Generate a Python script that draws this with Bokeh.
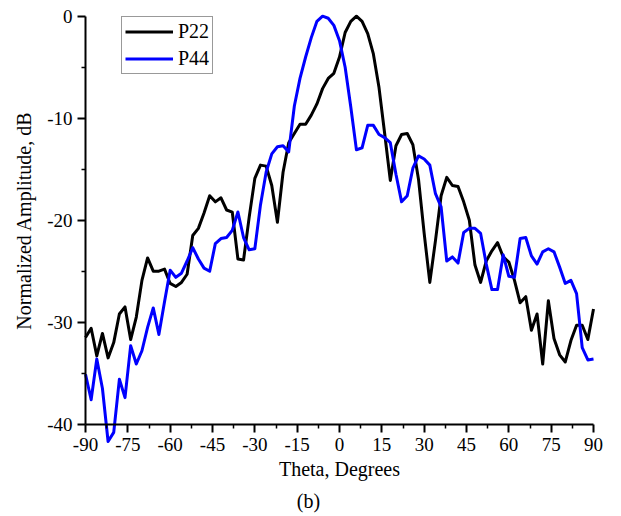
from bokeh.plotting import figure
from bokeh.models import Range1d, FixedTicker, Legend, LegendItem, Label
from bokeh.embed import file_html
from bokeh.resources import INLINE

theta = [-90, -88, -86, -84, -82, -80, -78, -76, -74, -72, -70, -68, -66, -64, -62, -60,
         -58, -56, -54, -52, -50, -48, -46, -44, -42, -40, -38, -36, -34, -32, -30, -28,
         -26, -24, -22, -20, -18, -16, -14, -12, -10, -8, -6, -4, -2, 0, 2, 4, 6, 8, 10,
         12, 14, 16, 18, 20, 22, 24, 26, 28, 30, 32, 34, 36, 38, 40, 42, 44, 46, 48, 50,
         52, 54, 56, 58, 60, 62, 64, 66, 68, 70, 72, 74, 76, 78, 80, 82, 84, 86, 88, 90]

p22 = [-31.5, -30.6, -33.3, -31.1, -33.5, -32.0, -29.2, -28.5, -31.7, -29.5, -25.9, -23.7,
       -25.0, -25.0, -24.8, -26.2, -26.5, -26.1, -25.3, -21.5, -20.8, -19.3, -17.6, -18.2,
       -17.8, -19.0, -19.2, -23.8, -23.9, -19.7, -15.9, -14.6, -14.7, -16.6, -20.2, -15.3,
       -12.4, -11.5, -10.6, -10.6, -9.7, -8.6, -7.1, -6.1, -5.6, -4.0, -1.6, -0.5, 0.0,
       -0.5, -1.7, -3.7, -7.0, -11.5, -16.1, -12.7, -11.6, -11.5, -12.6, -16.0, -21.3,
       -26.1, -22.0, -17.6, -15.8, -16.6, -16.7, -18.2, -20.0, -24.4, -26.1, -24.0, -23.0,
       -22.2, -23.6, -24.1, -25.9, -28.1, -27.5, -30.8, -29.2, -34.1, -27.9, -31.6, -33.2,
       -33.9, -31.8, -30.3, -30.3, -31.7, -28.7]

p44 = [-35.1, -37.6, -33.6, -36.5, -41.7, -40.8, -35.6, -37.4, -32.3, -34.1, -32.8, -30.5,
       -28.6, -31.2, -28.0, -24.9, -25.6, -25.2, -24.0, -22.7, -23.8, -24.7, -25.0, -22.3,
       -21.8, -21.7, -21.0, -19.2, -21.7, -22.9, -22.8, -18.5, -15.3, -13.5, -12.8, -12.7,
       -13.3, -8.8, -6.1, -4.0, -2.1, -0.5, 0.0, -0.2, -0.9, -2.4, -5.0, -8.9, -13.1,
       -12.9, -10.7, -10.7, -11.6, -11.9, -12.4, -15.5, -18.2, -17.6, -14.9, -13.7, -14.0,
       -14.6, -17.4, -18.7, -24.0, -23.6, -24.2, -21.2, -20.8, -20.8, -21.3, -24.3, -26.8,
       -26.8, -23.4, -25.5, -25.6, -21.8, -21.7, -23.5, -24.3, -23.1, -22.8, -23.1, -24.6,
       -26.2, -25.9, -27.2, -32.5, -33.7, -33.6]

x_major = [-90, -75, -60, -45, -30, -15, 0, 15, 30, 45, 60, 75, 90]
x_minor = [-82.5, -67.5, -52.5, -37.5, -22.5, -7.5, 7.5, 22.5, 37.5, 52.5, 67.5, 82.5]
x_labels = ["-90", "-75", "-60", "-45", "-30", "-15", "0", "15", "30", "45", "60", "75", "90"]
y_major = [-40, -30, -20, -10, 0]
y_minor = [-35, -25, -15, -5]
y_labels = ["-40", "-30", "-20", "-10", "0"]

series_names = ["P22", "P44"]
x_title = "Theta, Degrees"
y_title = "Normalized Amplitude, dB"
caption = "(b)"

FONT = "Liberation Serif"

# frame covers the whole canvas; axes are pinned at theta=-90 and -40 dB
p = figure(width=621, height=516, output_backend="svg", toolbar_location=None,
           x_range=Range1d(-120.12, 99.92), y_range=Range1d(-49.05, 1.54),
           min_border_left=0, min_border_right=0, min_border_top=0,
           min_border_bottom=0)
p.outline_line_color = None
p.grid.visible = False
p.background_fill_color = "white"
p.border_fill_color = "white"

r1 = p.line(theta, p22, line_color="black", line_width=3, line_join="round")
r2 = p.line(theta, p44, line_color="#0000ff", line_width=3, line_join="round")

for ax in (p.xaxis[0], p.yaxis[0]):
    ax.axis_line_color = "black"
    ax.axis_line_width = 2
    ax.major_tick_line_color = "black"
    ax.major_tick_line_width = 2
    ax.minor_tick_line_color = "black"
    ax.minor_tick_line_width = 1.5
    ax.major_tick_in = 0
    ax.major_tick_out = 8
    ax.minor_tick_in = 0
    ax.minor_tick_out = 4
    ax.major_label_text_font = FONT
    ax.major_label_text_font_size = "19px"
    ax.major_label_text_color = "black"
    ax.axis_label_text_font = FONT
    ax.axis_label_text_font_size = "20px"
    ax.axis_label_text_font_style = "normal"
    ax.axis_label_text_color = "black"

xa = p.xaxis[0]
xa.ticker = FixedTicker(ticks=x_major, minor_ticks=x_minor)
xa.major_label_overrides = dict(zip(x_major, x_labels))
xa.fixed_location = -40
xa.bounds = (-90, 90)
xa.axis_label = x_title
xa.major_label_standoff = 6
xa.axis_label_standoff = 3

ya = p.yaxis[0]
ya.ticker = FixedTicker(ticks=y_major, minor_ticks=y_minor)
ya.major_label_overrides = dict(zip(y_major, y_labels))
ya.fixed_location = -90
ya.bounds = (-40, 0)
ya.axis_label = y_title
ya.major_label_standoff = 5
ya.axis_label_standoff = 9

legend = Legend(items=[LegendItem(label=series_names[0], renderers=[r1]),
                       LegendItem(label=series_names[1], renderers=[r2])],
                location=(121, 442), orientation="vertical",
                padding=3, spacing=4, margin=0, label_standoff=5,
                glyph_width=48, glyph_height=23, label_height=23,
                label_text_font=FONT, label_text_font_size="20px",
                label_text_color="black",
                border_line_color="#333333", border_line_width=1,
                background_fill_color="white", background_fill_alpha=1.0)
p.add_layout(legend)

p.add_layout(Label(x=-11, y=-47.5, text=caption, text_align="center",
                   text_baseline="middle", text_font=FONT,
                   text_font_size="20px", text_color="black"))

open("out.html", "w").write(file_html(p, INLINE))
